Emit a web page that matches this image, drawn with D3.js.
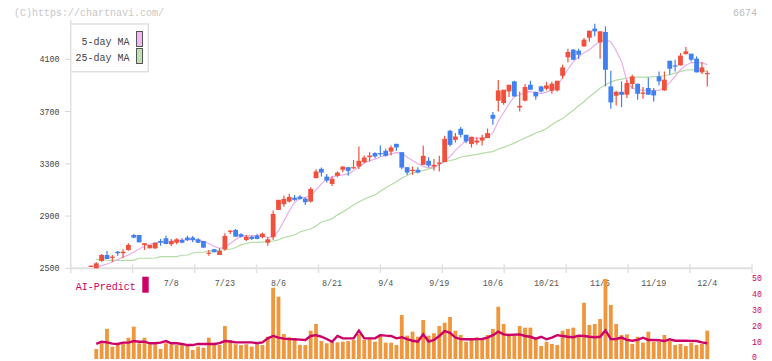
<!DOCTYPE html>
<html><head><meta charset="utf-8">
<script src="https://cdn.jsdelivr.net/npm/d3@7"></script>
<style>body{margin:0;background:#fff}svg{display:block}text{font-family:"Liberation Mono","DejaVu Sans Mono",monospace}</style>
</head><body><svg id="c" width="772" height="361"></svg>
<script>
const dates = ["6/17","6/18","6/19","6/20","6/23","6/24","6/25","6/26","6/27","6/30",
"7/1","7/2","7/3","7/4","7/7","7/8","7/9","7/10","7/11","7/14","7/15","7/16","7/17","7/18","7/22","7/23","7/24","7/25","7/28","7/29","7/30","7/31",
"8/1","8/4","8/5","8/6","8/7","8/8","8/12","8/13","8/14","8/15","8/18","8/19","8/20","8/21","8/22","8/25","8/26","8/27","8/28","8/29",
"9/1","9/2","9/3","9/4","9/5","9/8","9/9","9/10","9/11","9/12","9/16","9/17","9/18","9/19","9/22","9/24","9/25","9/26","9/29","9/30",
"10/1","10/2","10/3","10/6","10/7","10/8","10/9","10/10","10/14","10/15","10/16","10/17","10/20","10/21","10/22","10/23","10/24","10/27","10/28","10/29","10/30","10/31",
"11/4","11/5","11/6","11/7","11/10","11/11","11/12","11/13","11/14","11/17","11/18","11/19","11/20","11/21","11/25","11/26","11/27","11/28",
"12/1","12/2","12/3","12/4"];
const openP = [2520,2500,2556,2602,2584,2627,2615,2640,2755,2755,2679,2653,2653,2709,2730,2684,2696,2717,2735,2735,2722,2709,2612,2646,2602,2646,2781,2794,2761,2717,2742,2750,2738,2696,2738,2947,2991,3011,3041,3049,3034,3011,3190,3261,3202,3146,3208,3254,3274,3269,3279,3313,3351,3382,3382,3399,3394,3453,3389,3274,3248,3254,3292,3323,3279,3300,3313,3553,3484,3568,3522,3451,3463,3478,3497,3675,3783,3765,3854,3931,3731,3783,3905,3849,3892,3875,3859,3862,3974,4115,4174,4166,4199,4265,4335,4230,4309,3892,3821,3851,3829,3911,3913,3836,3880,3862,3969,3862,4089,4053,4053,4141,4143,4105,4000,3990];
const highP = [2522,2546,2610,2633,2602,2633,2646,2692,2763,2755,2692,2679,2696,2725,2750,2725,2730,2730,2750,2748,2730,2709,2640,2646,2653,2768,2794,2801,2768,2755,2750,2763,2773,2738,2942,3024,3057,3070,3062,3062,3044,3121,3259,3271,3221,3202,3241,3279,3274,3330,3432,3363,3389,3389,3440,3415,3440,3453,3389,3274,3279,3274,3438,3351,3336,3361,3514,3560,3535,3581,3522,3507,3504,3522,3570,3696,3942,3867,3905,3936,3854,3911,3936,3854,3898,3928,3928,3936,4059,4181,4179,4181,4263,4319,4373,4314,4352,4013,3859,3931,3944,3982,3913,3888,3961,3880,4007,4007,4089,4097,4148,4194,4143,4122,4079,4013];
const lowP = [2518,2500,2551,2571,2551,2597,2577,2635,2730,2699,2640,2653,2648,2673,2684,2671,2684,2692,2709,2699,2692,2658,2597,2623,2602,2635,2763,2742,2735,2709,2717,2722,2730,2673,2717,2947,2972,3003,3016,3024,2985,3003,3190,3202,3156,3131,3198,3236,3208,3261,3261,3305,3317,3343,3356,3356,3363,3399,3259,3215,3215,3228,3292,3274,3248,3241,3313,3432,3463,3501,3458,3425,3445,3440,3497,3599,3701,3752,3811,3816,3701,3777,3867,3790,3846,3862,3836,3854,3951,4076,4092,4102,4194,4235,4276,4105,3892,3721,3747,3734,3803,3875,3790,3798,3829,3777,3900,3859,3982,4007,4053,4135,4084,4000,3987,3892];
const closeP = [2520,2538,2602,2571,2589,2615,2627,2679,2735,2699,2692,2679,2696,2696,2686,2709,2722,2696,2717,2717,2696,2658,2620,2623,2633,2748,2788,2742,2742,2742,2725,2725,2765,2722,2916,3024,3031,3047,3024,3031,3006,3108,3241,3233,3172,3185,3233,3279,3246,3274,3323,3348,3363,3356,3374,3361,3425,3425,3271,3233,3254,3233,3361,3287,3292,3310,3491,3445,3509,3522,3471,3507,3478,3501,3535,3645,3861,3867,3905,3816,3744,3888,3867,3816,3854,3900,3913,3936,4038,4156,4097,4135,4250,4319,4314,4314,4020,3770,3851,3828,3918,3969,3836,3846,3829,3823,3931,3944,4028,4049,4128,4161,4097,4000,4038,3995];
const ma5 = [null,2510,2521,2533,2548,2567,2587,2602,2625,2648,2671,
2684,2694,2703,2707,2709,2712,2715,2718,2718,2715,
2707,2690,2667,2653,2661,2690,2721,2744,2750,2750,
2750,2754,2736,2742,2786,2863,2939,3004,3037,3044,
3054,3100,3146,3181,3200,3209,3215,3223,3246,3277,
3305,3323,3336,3352,3365,3378,3385,3382,3350,3326,
3300,3280,3269,3277,3292,3317,3356,3403,3441,3480,
3495,3497,3497,3503,3537,3626,3691,3760,3813,3829,
3846,3852,3846,3838,3849,3865,3898,3959,4024,4082,
4120,4151,4174,4208,4235,4248,4235,4166,4084,3930,
3879,3867,3862,3863,3863,3862,3887,3921,3970,4020,
4055,4074,4076,4072,4059];
const ma25 = [null,2569,2565,2562,2560,2560,2561,2561,2561,2577,2577,
2577,2579,2589,2589,2589,2589,2600,2602,2617,2623,
2623,2633,2635,2636,2644,2646,2659,2679,2690,2698,
2699,2702,2704,2709,2717,2736,2745,2755,2778,2791,
2801,2824,2855,2866,2880,2909,2932,2958,2985,3008,
3029,3047,3062,3089,3116,3139,3162,3192,3211,3231,
3240,3248,3261,3269,3300,3317,3325,3334,3352,3359,
3366,3372,3380,3388,3393,3411,3426,3442,3458,3478,
3497,3516,3536,3550,3570,3599,3625,3646,3679,3710,
3744,3775,3813,3844,3880,3905,3925,3940,3948,3955,
3959,3964,3964,3964,3967,3969,3974,3982,3994,4007,
4018,4020,4017,4013,4007];
const volume = [null,5.3,8.9,17.9,6.8,8.3,8.9,12.4,19.3,8.9,12.4,
8.3,8.3,5.3,8.9,8.3,7.8,7.8,7.8,4.7,6.8,
6.1,12.4,8.3,7.8,19.7,11,8.3,7.8,8.3,6.8,
8.3,7.8,13,43.7,38.1,14.7,12.7,11.6,7.8,7.8,
16.8,21,10.3,8.9,9.9,9.5,9.9,10.3,11,14.7,
11,11.4,9.9,14.7,9.3,9.3,7.8,26.6,13.7,16.2,
13,23.5,13.7,15.2,19.7,21.8,25.4,16.8,14.1,9.9,
11.4,12.7,11,14.1,17.9,31.8,21,14,14.7,19.7,
18.7,18.7,11.6,7.2,9.9,8.5,7.8,16.8,17.9,18.7,
14.1,34.3,20.4,21,24.1,49.2,32.9,21,14.1,14.5,
8.5,13,9.3,16.2,9.9,9.9,14.1,10.3,7.8,8.5,
7.2,9.3,7.8,8.5,16.8];
const aiPredict = [null,8.5,9.9,9.5,8.7,8.5,9.3,9.3,10.3,9.9,9.9,
8.9,8.9,9.3,10.3,8.9,8.9,8.5,7.8,7.8,8.5,
8.5,8.5,8.5,9,10.3,10,9.5,9.5,9.5,9.5,
8.9,9.5,12,13.5,12.5,11.8,11.5,11.4,11.2,11,
13.5,14,13,11.6,9.9,13.5,12,12,12,16.8,
12,12,12,14,13.7,13.5,12,12.7,11.5,10.5,
9.9,14.5,10,11,13.5,16.5,15.5,12.5,11.5,11.4,
11.4,11.5,11.6,12.5,14,16.2,14.5,14.1,14.3,14.5,
13.5,13,11.8,13,11.4,12.5,14,13.5,13,12.7,
13.7,13.5,13,12.7,13,17,11.5,11.6,12.5,11,
10.5,11,12.4,11,11,10.8,10.3,11.4,10.5,10.5,
10.5,10.4,10.3,9.5,8.9];
const priceTicks = [2500,2900,3300,3700,4100];
const predictTicks = [0,10,20,30,40,50];
const dateLabels = ["7/8","7/23","8/6","8/21","9/4","9/19","10/6","10/21","11/5","11/19","12/4"];

const UP="#f0503c", DOWN="#4080f0";
const svg = d3.select("#c");
const x = d3.scalePoint().domain(dates).range([90.9, 707.3]);
const y = d3.scaleLinear().domain([2500,4100]).range([268.3,59.3]);
const yv = d3.scaleLinear().domain([0,50]).range([357.5,277.7]);
const frame = d3.scaleLinear().domain([0,11]).range([70.7,752]);

const rows = dates.map((d,i)=>({d,i,o:openP[i],h:highP[i],l:lowP[i],c:closeP[i],v:volume[i],a:aiPredict[i],m5:ma5[i],m25:ma25[i]}));

// header
svg.append("text").attr("x",14).attr("y",16).attr("font-size",10).attr("fill","#c8c8c8").text("(C)https://chartnavi.com/");
svg.append("text").attr("x",757).attr("y",16).attr("text-anchor","end").attr("font-size",10).attr("fill","#bdbdbd").text("6674");

// axes
svg.append("line").attr("x1",70.7).attr("x2",70.7).attr("y1",20).attr("y2",268.3).attr("stroke","#e0e0e0").attr("stroke-width",1.5);
svg.append("line").attr("x1",70.7).attr("x2",752).attr("y1",268.3).attr("y2",268.3).attr("stroke","#e0e0e0").attr("stroke-width",2);
svg.selectAll(".ft").data(d3.range(12)).join("line").attr("x1",d=>frame(d)).attr("x2",d=>frame(d)).attr("y1",264.5).attr("y2",273).attr("stroke","#e0e0e0").attr("stroke-width",1.5);
const gy = svg.append("g");
gy.selectAll("line").data(priceTicks).join("line").attr("x1",65).attr("x2",70.7).attr("y1",d=>y(d)).attr("y2",d=>y(d)).attr("stroke","#d8d8d8");
gy.selectAll("text").data(priceTicks).join("text").attr("x",59.5).attr("y",d=>y(d)+3).attr("text-anchor","end").attr("font-size",8.4).attr("fill","#444").text(d=>d);
svg.selectAll(".xl").data(dateLabels).join("text").attr("x",d=>x(d)).attr("y",285.5).attr("text-anchor","middle").attr("font-size",8.4).attr("fill","#555").text(d=>d);

// MA lines
const lineMA = k => d3.line().defined(r=>r[k]!=null).x(r=>x(r.d)).y(r=>y(r[k]));
svg.append("path").datum(rows).attr("d",lineMA("m25")).attr("fill","none").attr("stroke","#b4dca4").attr("stroke-width",1.2);
svg.append("path").datum(rows).attr("d",lineMA("m5")).attr("fill","none").attr("stroke","#eaaeea").attr("stroke-width",1.2);

// candles
const cg = svg.append("g");
cg.selectAll("line").data(rows).join("line")
  .attr("x1",r=>x(r.d)).attr("x2",r=>x(r.d)).attr("y1",r=>y(r.h)).attr("y2",r=>y(r.l))
  .attr("stroke",r=>r.c>=r.o?UP:DOWN).attr("stroke-width",1.2);
cg.selectAll("rect").data(rows).join("rect")
  .attr("x",r=>x(r.d)-2.4).attr("width",4.8)
  .attr("y",r=>y(Math.max(r.o,r.c))).attr("height",r=>Math.max(1.2,Math.abs(y(r.o)-y(r.c))))
  .attr("fill",r=>r.c>=r.o?UP:DOWN);

// legend
svg.append("rect").attr("x",70.7).attr("y",24).attr("width",77.6).attr("height",47.7).attr("fill","#fff").attr("stroke","#e0e0e0").attr("stroke-width",1.5);
svg.append("text").attr("x",129.5).attr("y",44.5).attr("text-anchor","end").attr("font-size",10).attr("fill","#444").text("5-day MA");
svg.append("text").attr("x",129.5).attr("y",61).attr("text-anchor","end").attr("font-size",10).attr("fill","#444").text("25-day MA");
svg.append("rect").attr("x",136.5).attr("y",31.5).attr("width",6).attr("height",15).attr("fill","#f0b8f0").attr("stroke","#555");
svg.append("rect").attr("x",136.5).attr("y",48.5).attr("width",6).attr("height",15).attr("fill","#bfe0b0").attr("stroke","#555");

// AI-Predict panel
svg.append("text").attr("x",75.7).attr("y",290).attr("font-size",10).attr("fill","#cc0066").text("AI-Predict");
svg.append("rect").attr("x",142.3).attr("y",276.7).attr("width",6.4).attr("height",16).attr("fill","#cc0066");
svg.selectAll(".pt").data(predictTicks).join("text").attr("x",752).attr("y",d=>Math.min(yv(d)+3,359.5)).attr("font-size",8.2).attr("fill","#cc0066").text(d=>d);
svg.append("g").selectAll("rect").data(rows.filter(r=>r.v!=null)).join("rect")
  .attr("x",r=>x(r.d)-1.9).attr("width",3.8).attr("y",r=>yv(r.v)).attr("height",r=>yv(0)-yv(r.v)+1.5).attr("fill","#f0963c");
svg.append("path").datum(rows.filter(r=>r.a!=null)).attr("d",d3.line().x(r=>x(r.d)).y(r=>yv(r.a))).attr("fill","none").attr("stroke","#cc0066").attr("stroke-width",2.4);
</script></body></html>
